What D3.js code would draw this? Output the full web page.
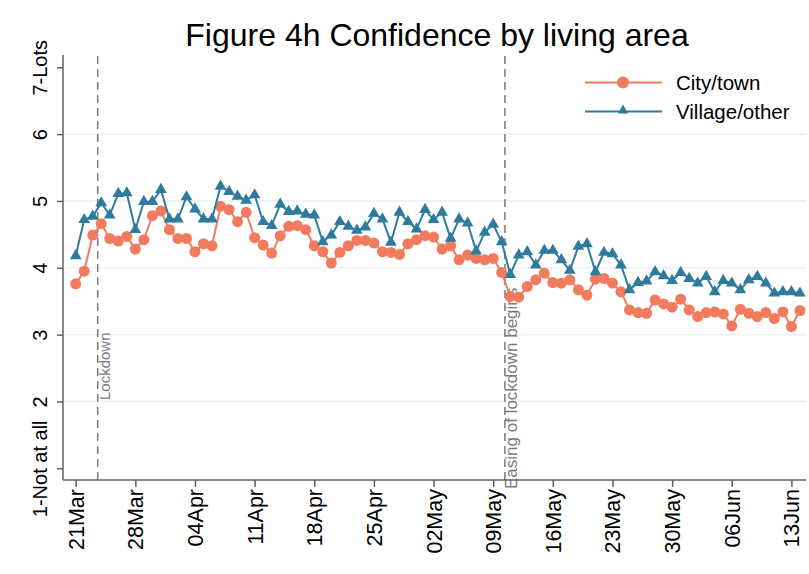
<!DOCTYPE html>
<html>
<head>
<meta charset="utf-8">
<script src="https://cdn.jsdelivr.net/npm/d3@7"></script>
<style>
	body{margin:0;background:#fff;}
	svg{display:block;font-family:"Liberation Sans",Arial,sans-serif;}
</style>
</head>
<body>
<svg width="809" height="574"></svg>
<script>
// daily survey means, 21 Mar - 14 Jun 2020
const startDay = "2020-03-21";
const city = [
	3.76,3.95,4.49,4.66,4.44,4.40,4.47,4.28,4.42,4.78,4.85,4.57,4.44,4.44,4.24,4.36,4.33,
	4.92,4.87,4.69,4.83,4.45,4.34,4.22,4.48,4.62,4.63,4.57,4.33,4.24,4.07,4.23,4.33,
	4.41,4.41,4.37,4.24,4.23,4.20,4.36,4.42,4.48,4.46,4.28,4.33,4.12,4.19,4.14,4.12,4.14,
	3.93,3.57,3.56,3.72,3.82,3.92,3.78,3.77,3.82,3.67,3.59,3.83,3.84,3.77,3.64,3.37,3.33,
	3.32,3.52,3.46,3.41,3.53,3.37,3.27,3.33,3.34,3.31,3.13,3.38,3.32,3.27,3.33,3.24,3.34,3.12,3.36
];
const village = [
	4.18,4.72,4.77,4.97,4.79,5.11,5.12,4.57,4.99,4.99,5.17,4.73,4.73,5.06,4.88,4.73,4.73,
	5.22,5.14,5.07,5.01,5.09,4.69,4.63,4.95,4.84,4.85,4.80,4.79,4.39,4.49,4.69,4.62,
	4.56,4.61,4.81,4.73,4.38,4.83,4.69,4.58,4.87,4.72,4.83,4.44,4.73,4.67,4.25,4.53,4.65,
	4.39,3.90,4.19,4.24,4.04,4.26,4.26,4.12,3.96,4.32,4.36,3.94,4.23,4.21,4.04,3.67,3.78,
	3.80,3.94,3.88,3.81,3.93,3.84,3.77,3.87,3.64,3.81,3.77,3.67,3.82,3.87,3.77,3.62,3.64,3.64,3.62
];
const xTicks = ["2020-03-21","2020-03-28","2020-04-04","2020-04-11","2020-04-18","2020-04-25",
	"2020-05-02","2020-05-09","2020-05-16","2020-05-23","2020-05-30","2020-06-06","2020-06-13"];
const yTicks = [1,2,3,4,5,6,7];
const yTickLabels = ["1-Not at all","2","3","4","5","6","7-Lots"];
const events = [
	{date:"2020-03-23T14:00", label:"Lockdown"},
	{date:"2020-05-10T09:00", label:"Easing of lockdown begins"}
];
const seriesNames = ["City/town","Village/other"];
const colors = ["#f27b5e","#2f7b9e"];

const parse = d3.utcParse("%Y-%m-%d");
const parseT = d3.utcParse("%Y-%m-%dT%H:%M");
const day0 = parse(startDay);
const dates = city.map((v,i) => d3.utcDay.offset(day0, i));

const svg = d3.select("svg");
const x = d3.scaleUtc()
	.domain([parse("2020-03-21"), parse("2020-06-13")])
	.range([75.7, 791.4]);
const y = d3.scaleLinear().domain([1,7]).range([468.3, 67.3]);

const axisColor = "#606060";

// gridlines
svg.append("g").selectAll("line")
	.data(yTicks.filter(v => v > 1 && v < 7))
	.join("line")
	.attr("x1", 64).attr("x2", 806)
	.attr("y1", d => y(d)).attr("y2", d => y(d))
	.attr("stroke", "#e9f1f3").attr("stroke-width", 1.5);

// event lines
const ev = svg.append("g");
events.forEach((e, k) => {
	const ex = x(parseT(e.date));
	ev.append("line")
		.attr("x1", ex).attr("x2", ex)
		.attr("y1", 56).attr("y2", 480)
		.attr("stroke", "#7a7a7a").attr("stroke-width", 1.5)
		.attr("stroke-dasharray", "8,5");
	const ty = k == 0 ? 400 : 489;
	ev.append("text")
		.attr("transform", `translate(${ex+12},${ty}) rotate(-90)`)
		.attr("fill", "#7a7a7a")
		.attr("font-size", k == 0 ? 15 : 17)
		.text(e.label);
});

// y axis
const yAxis = svg.append("g").attr("transform", "translate(63,0)")
	.call(d3.axisLeft(y).tickValues(yTicks).tickSize(6).tickFormat(""));
yAxis.select(".domain").attr("d", "M0,55V480");
yAxis.selectAll(".domain,.tick line").attr("stroke", axisColor).attr("stroke-width", 1.5);
yAxis.selectAll(".tick").append("text")
	.attr("transform", "translate(-16,0) rotate(-90)")
	.attr("text-anchor", "middle")
	.attr("fill", "#000").attr("font-size", 20)
	.text((d,i) => yTickLabels[i]);

// x axis
const xAxis = svg.append("g").attr("transform", "translate(0,480)")
	.call(d3.axisBottom(x).tickValues(xTicks.map(parse)).tickSize(7).tickFormat(""));
xAxis.select(".domain").attr("d", "M63,0H806");
xAxis.selectAll(".domain,.tick line").attr("stroke", axisColor).attr("stroke-width", 1.5);
const fmt = d3.utcFormat("%d%b");
xAxis.selectAll(".tick").append("text")
	.attr("transform", "translate(7.5,9) rotate(-90)")
	.attr("text-anchor", "end")
	.attr("fill", "#000").attr("font-size", 21.5)
	.text(d => fmt(d));

// series
const line = d3.line().x((d,i) => x(dates[i])).y(d => y(d));
const tri = d3.symbol().type(d3.symbolTriangle).size(60);
[city, village].forEach((vals, s) => {
	const g = svg.append("g");
	g.append("path").datum(vals)
		.attr("d", line)
		.attr("fill", "none").attr("stroke", colors[s]).attr("stroke-width", 2);
	if(s == 0){
		g.selectAll("circle").data(vals).join("circle")
			.attr("cx", (d,i) => x(dates[i])).attr("cy", d => y(d))
			.attr("r", 5.5).attr("fill", colors[s]);
	}else{
		g.selectAll("path.m").data(vals).join("path")
			.attr("class", "m")
			.attr("transform", (d,i) => `translate(${x(dates[i])},${y(d)})`)
			.attr("d", tri).attr("fill", colors[s]);
	}
});

// legend
const lg = svg.append("g");
seriesNames.forEach((name, s) => {
	const ly = 82.5 + s*29;
	lg.append("line").attr("x1", 585).attr("x2", 662).attr("y1", ly).attr("y2", ly)
		.attr("stroke", colors[s]).attr("stroke-width", 2);
	if(s == 0){
		lg.append("circle").attr("cx", 623).attr("cy", ly).attr("r", 6).attr("fill", colors[s]);
	}else{
		lg.append("path").attr("transform", `translate(623,${ly-1})`)
			.attr("d", d3.symbol().type(d3.symbolTriangle).size(45)).attr("fill", colors[s]);
	}
	lg.append("text").attr("x", 676).attr("y", ly + 7)
		.attr("font-size", 20.5).attr("fill", "#000").text(name);
});

// title
svg.append("text")
	.attr("x", 437).attr("y", 46)
	.attr("text-anchor", "middle")
	.attr("font-size", 32).attr("fill", "#000")
	.text("Figure 4h Confidence by living area");
</script>
</body>
</html>
